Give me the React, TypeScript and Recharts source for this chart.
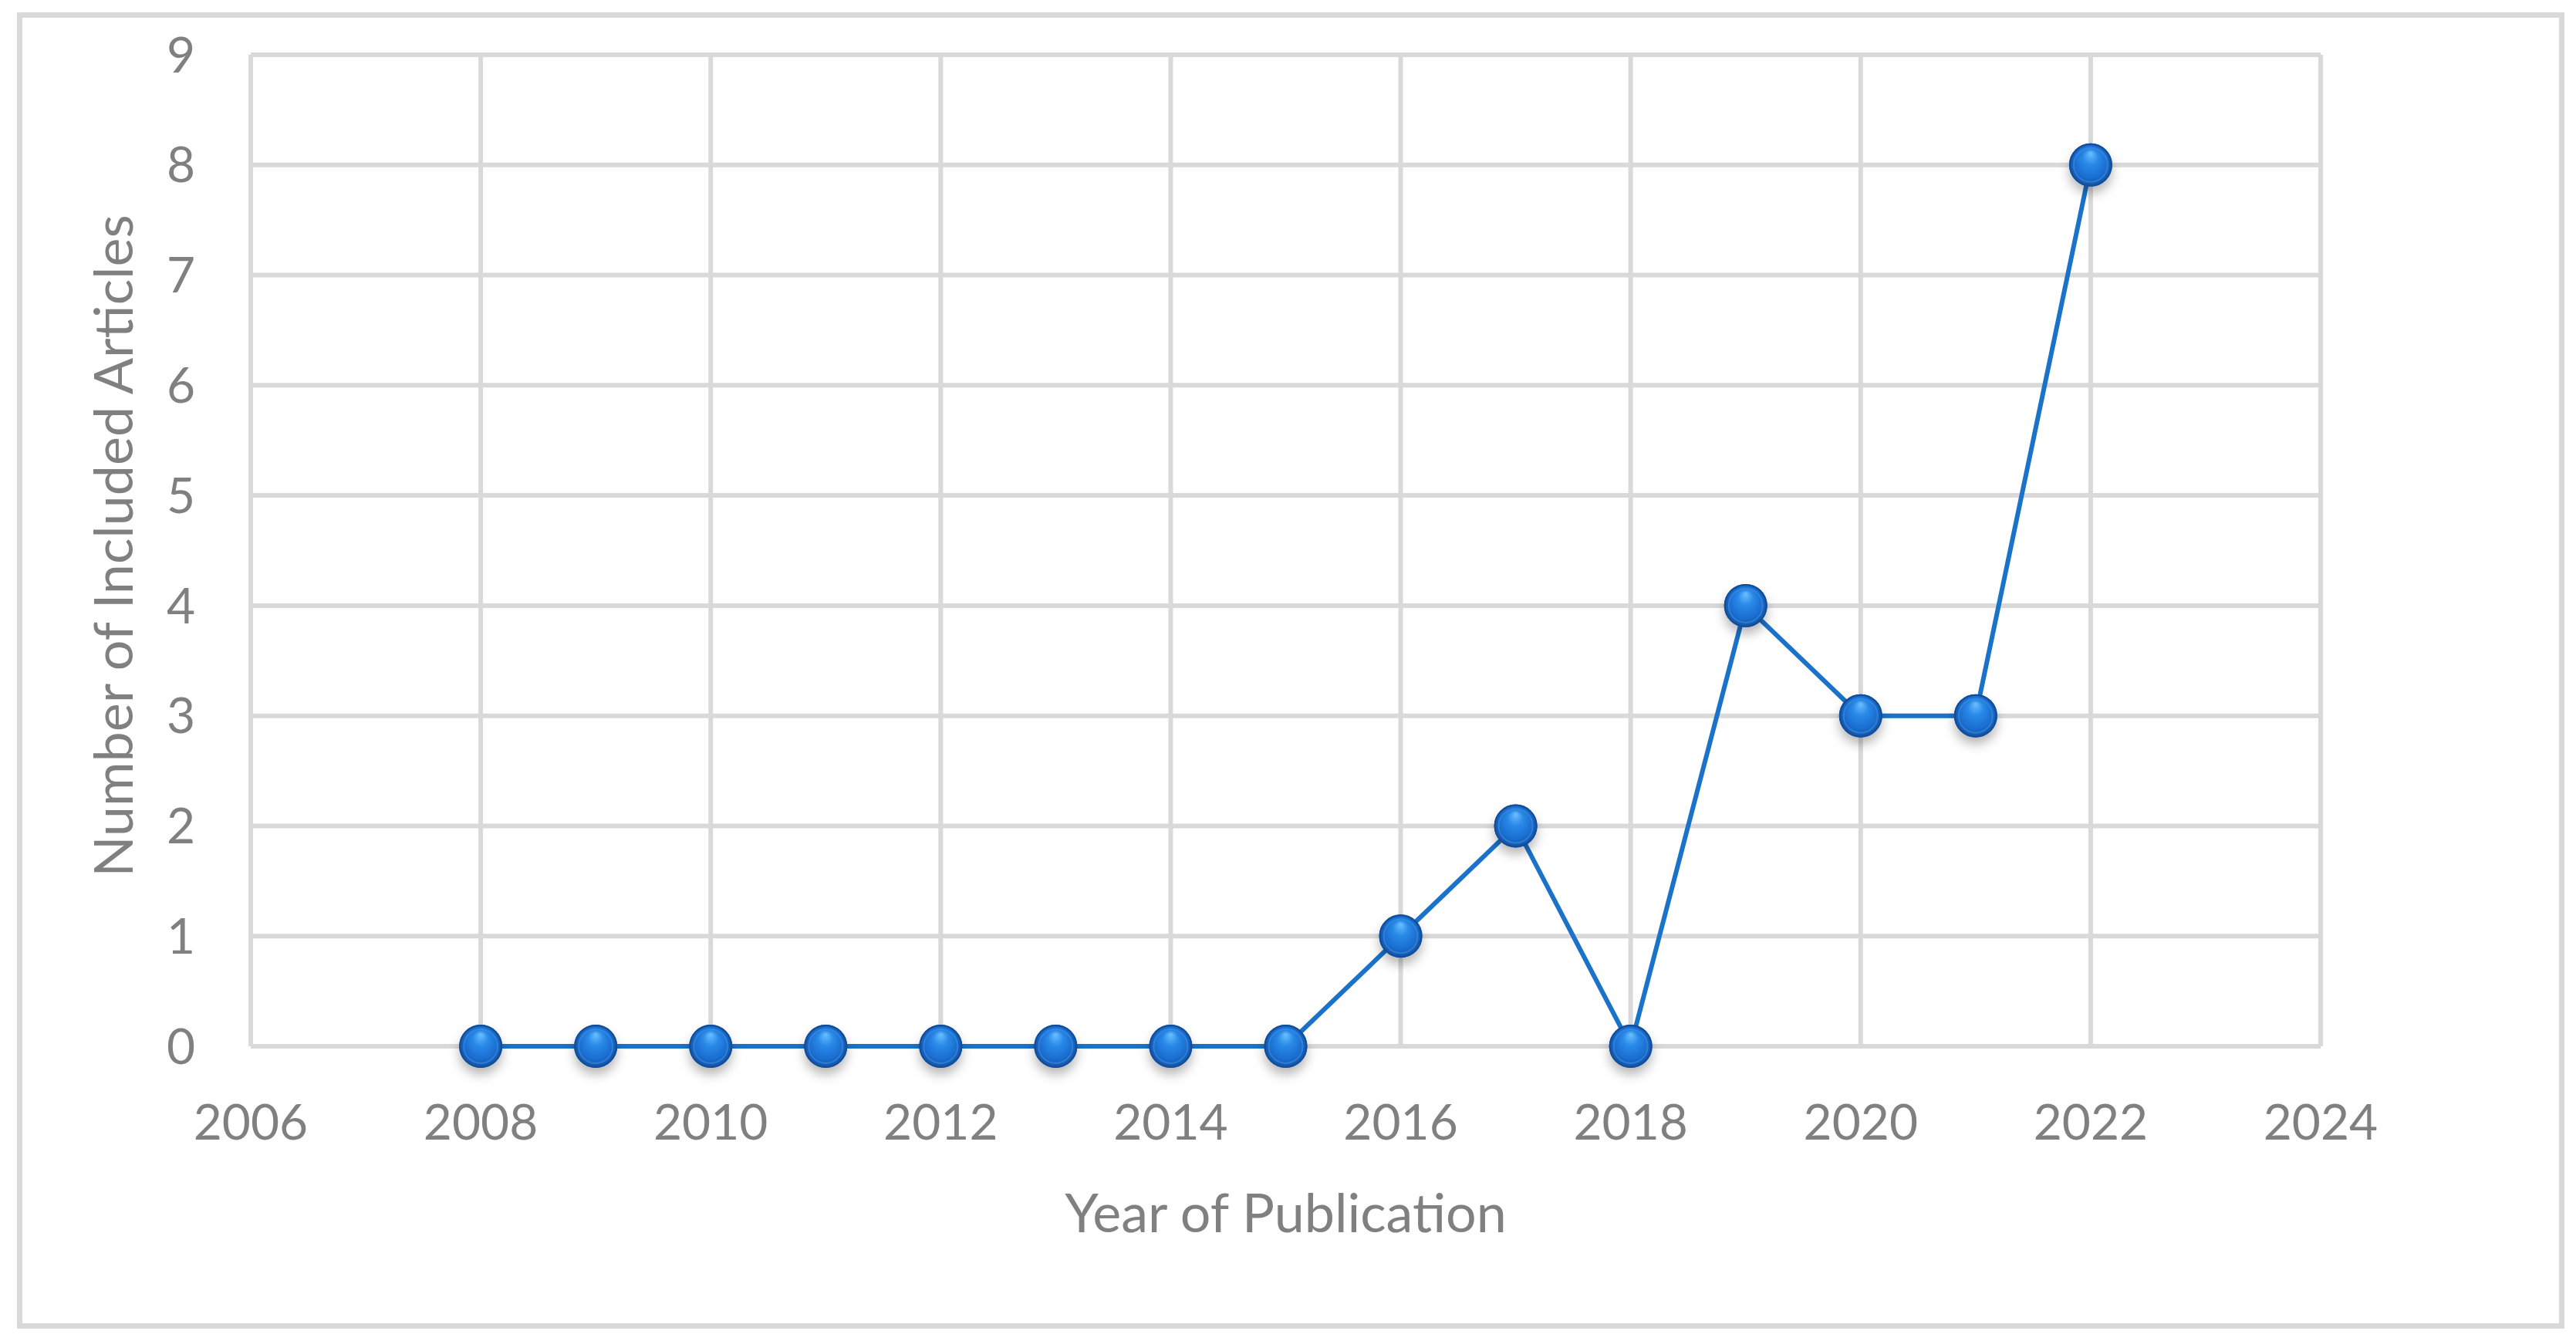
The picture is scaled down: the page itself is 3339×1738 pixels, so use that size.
import React from 'react';
import { LineChart, Line, XAxis, YAxis, CartesianGrid } from 'recharts';

const years = [2008, 2009, 2010, 2011, 2012, 2013, 2014, 2015, 2016, 2017, 2018, 2019, 2020, 2021, 2022];
const articles = [0, 0, 0, 0, 0, 0, 0, 0, 1, 2, 0, 4, 3, 3, 8];
const xTicks = [2006, 2008, 2010, 2012, 2014, 2016, 2018, 2020, 2022, 2024];
const yTicks = [0, 1, 2, 3, 4, 5, 6, 7, 8, 9];

const data = years.map((year, i) => ({ year, count: articles[i] }));

const FONT = 'Lato, "Open Sans", sans-serif';
const TEXT = '#808080';
const GRID = '#d9d9d9';

// glossy 3D ball marker, like the Office style
const SphereDot = (props: any) => {
  const { cx, cy, index } = props;
  if (cx == null || cy == null) return null;
  return (
    <g key={`dot-${index}`}>
      <circle cx={cx} cy={cy} r={28} fill="url(#ballGrad)" filter="url(#ballShadow)" />
      <circle cx={cx} cy={cy} r={22} fill="none" stroke="#3f8fe0" strokeWidth={2} strokeOpacity={0.6} />
      <circle cx={cx} cy={cy} r={27} fill="none" stroke="#114d99" strokeWidth={2} />
    </g>
  );
};

export default function App() {
  return (
    <div style={{ position: 'absolute', left: 0, top: 0, width: 3339, height: 1738, background: '#fff' }}>
      <div
        style={{
          position: 'absolute',
          left: 22,
          top: 16,
          width: 3302,
          height: 1706,
          border: `7px solid ${GRID}`,
          boxSizing: 'border-box',
        }}
      />
      <div style={{ position: 'absolute', left: 0, top: 0 }}>
        <LineChart width={3339} height={1738} data={data} margin={{ top: 71, right: 331, left: 0, bottom: 0 }}>
          <defs>
            <radialGradient id="ballGrad" cx="50%" cy="50%" r="50%" fx="50%" fy="22%">
              <stop offset="0%" stopColor="#6cc0ff" />
              <stop offset="35%" stopColor="#2a8ae8" />
              <stop offset="75%" stopColor="#1a6dd0" />
              <stop offset="100%" stopColor="#11509f" />
            </radialGradient>
            <filter id="ballShadow" x="-60%" y="-60%" width="220%" height="260%">
              <feDropShadow dx="0" dy="9" stdDeviation="7" floodColor="#000" floodOpacity="0.28" />
            </filter>
          </defs>
          <CartesianGrid stroke={GRID} strokeWidth={6} />
          <XAxis
            dataKey="year"
            type="number"
            domain={[2006, 2024]}
            ticks={xTicks}
            interval={0}
            axisLine={false}
            tickLine={false}
            tickSize={0}
            tickMargin={76}
            height={382}
            tick={{ fontFamily: FONT, fontSize: 64, fill: TEXT }}
            label={{
              content: ({ viewBox }: any) => (
                <text
                  x={viewBox.x + viewBox.width / 2}
                  y={1597}
                  textAnchor="middle"
                  fontFamily={FONT}
                  fontSize={70}
                  fill={TEXT}
                >
                  Year of Publication
                </text>
              ),
            }}
          />
          <YAxis
            type="number"
            domain={[0, 9]}
            ticks={yTicks}
            interval={0}
            axisLine={false}
            tickLine={false}
            tickSize={0}
            tickMargin={72}
            width={325}
            tick={{ fontFamily: FONT, fontSize: 64, fill: TEXT }}
            label={{
              content: ({ viewBox }: any) => {
                const cy = viewBox.y + viewBox.height / 2 - 6;
                return (
                  <text
                    x={172}
                    y={cy}
                    textAnchor="middle"
                    fontFamily={FONT}
                    fontSize={70}
                    fill={TEXT}
                    transform={`rotate(-90, 172, ${cy})`}
                  >
                    Number of Included Articles
                  </text>
                );
              },
            }}
          />
          <Line
            type="linear"
            dataKey="count"
            stroke="#1a72c9"
            strokeWidth={6}
            dot={<SphereDot />}
            activeDot={false}
            isAnimationActive={false}
          />
        </LineChart>
      </div>
    </div>
  );
}
